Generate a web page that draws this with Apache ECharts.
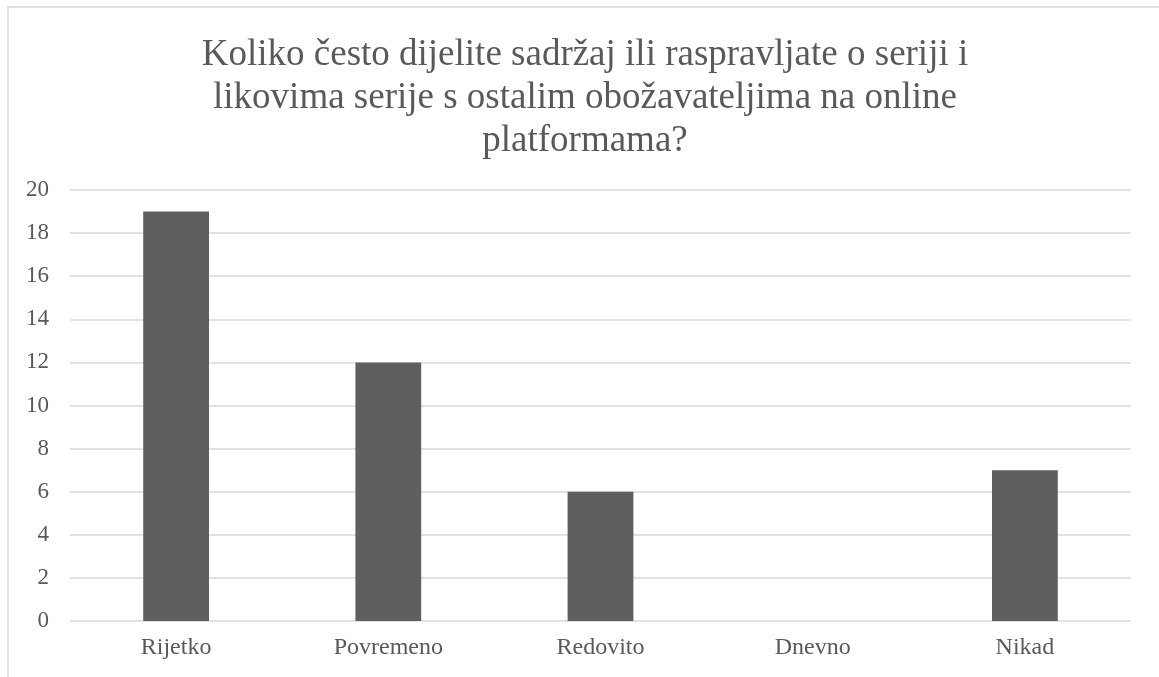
<!DOCTYPE html>
<html lang="hr">
<head>
  <meta charset="UTF-8">
  <title>Koliko često dijelite sadržaj</title>
  <script src="https://cdn.jsdelivr.net/npm/echarts@6.0.0/dist/echarts.min.js"></script>
  <style>
    html, body { margin: 0; padding: 0; background: #fff; }
    #chart { width: 1159px; height: 677px; }
  </style>
</head>
<body>
<div id="chart"></div>
<script>
  const titleText = 'Koliko često dijelite sadržaj ili raspravljate o seriji i\nlikovima serije s ostalim obožavateljima na online\nplatformama?'
  const categories = ['Rijetko', 'Povremeno', 'Redovito', 'Dnevno', 'Nikad']
  const values = [19, 12, 6, 0, 7]

  const myChart = echarts.init(document.getElementById('chart'))
  const font = '"Liberation Serif", "Times New Roman", serif'
  const option = {
    backgroundColor: '#fff',
    title: {
      text: titleText,
      left: 580,
      textAlign: 'center',
      top: 29,
      textStyle: { fontFamily: font, fontSize: 37, fontWeight: 'normal', color: '#595959', lineHeight: 43 }
    },
    graphic: [{
      type: 'rect',
      shape: { x: 8, y: 7, width: 1200, height: 700 },
      style: { fill: 'none', stroke: '#d9d9d9', lineWidth: 1.5 },
      silent: true
    }],
    grid: { left: 70, right: 28, top: 190, bottom: 56 },
    xAxis: {
      type: 'category',
      data: categories,
      axisLine: { show: false },
      axisTick: { show: false },
      axisLabel: { fontFamily: font, fontSize: 24, color: '#595959', margin: 15 }
    },
    yAxis: {
      type: 'value',
      min: 0, max: 20, interval: 2,
      axisLine: { show: false },
      axisTick: { show: false },
      splitLine: { lineStyle: { color: '#d9d9d9', width: 1.5 } },
      axisLabel: { fontFamily: font, fontSize: 23, color: '#595959', margin: 21 }
    },
    series: [{
      type: 'bar',
      data: values,
      barWidth: '31%',
      itemStyle: { color: '#5f5f5f' },
      silent: true
    }]
  }
  myChart.setOption(option)
</script>
</body>
</html>
